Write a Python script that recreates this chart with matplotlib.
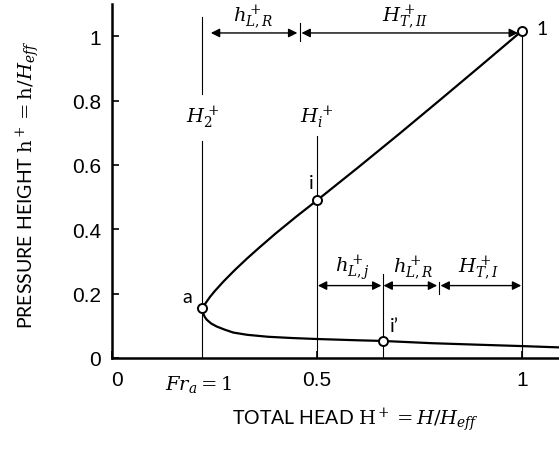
import matplotlib
matplotlib.use("Agg")
import matplotlib.pyplot as plt
import matplotlib.transforms as mtransforms

plt.rcParams["mathtext.fontset"] = "dejavuserif"

# upper branch, from point 1 down to the turning point a
upper_H = [1.0, 0.9, 0.8, 0.7, 0.6, 0.5, 0.45, 0.40, 0.36, 0.33, 0.30, 0.272, 0.25, 0.239, 0.228, 0.22]
upper_h = [1.017, 0.909, 0.802, 0.696, 0.592, 0.49, 0.440, 0.388, 0.344, 0.310, 0.274, 0.238, 0.207, 0.19, 0.17, 0.155]
# lower branch, from a to the right edge
lower_H = [0.22, 0.222, 0.226, 0.231, 0.242, 0.255, 0.275, 0.296, 0.33, 0.38, 0.44, 0.5, 0.6, 0.66, 0.78, 0.9, 1.0, 1.09]
lower_h = [0.155, 0.14, 0.128, 0.119, 0.107, 0.098, 0.088, 0.079, 0.072, 0.066, 0.062, 0.059, 0.055, 0.053, 0.046, 0.041, 0.037, 0.033]

points = {"a": (0.22, 0.155), "i": (0.5, 0.49), "i'": (0.66, 0.053), "1": (1.0, 1.017)}
H_a, H_i, H_j, H_1 = 0.22, 0.5, 0.66, 1.0
H_top_sep, H_bot_sep = 0.458, 0.797

fig = plt.figure(figsize=(5.59, 4.52), dpi=100)
ax = fig.add_axes([112 / 559, 1 - 359 / 452, 447 / 559, 354 / 452])
ax.set_xlim(0, 1.09)
ax.set_ylim(0, 1.10)

ax.spines[["top", "right"]].set_visible(False)
for s in ["left", "bottom"]:
    ax.spines[s].set_linewidth(1.8)

ax.set_xticks([0, 0.5, 1])
ax.set_xticklabels(["0", "0.5", "1"])
ax.set_yticks([0, 0.2, 0.4, 0.6, 0.8, 1])
ax.set_yticklabels(["0", "0.2", "0.4", "0.6", "0.8", "1"])
ax.tick_params(direction="in", length=5, width=1.2, labelsize=15)
ax.tick_params(axis="x", pad=9)
ax.tick_params(axis="y", pad=8)
for lab in ax.get_xticklabels() + ax.get_yticklabels():
    lab.set_fontfamily("Liberation Sans")
# the "0" on the x axis sits a little right of the origin
zero = ax.get_xticklabels()[0]
zero.set_transform(zero.get_transform() + mtransforms.ScaledTranslation(5 / 100, 0, fig.dpi_scale_trans))

thin = dict(color="black", lw=0.8)
# vertical guide lines
ax.plot([H_a, H_a], [0.82, 1.06], **thin)
ax.plot([H_a, H_a], [0, 0.675], **thin)
ax.plot([H_i, H_i], [0, 0.69], **thin)
ax.plot([H_j, H_j], [0, 0.26], **thin)
ax.plot([H_1, H_1], [0, 1.017], **thin)
ax.plot([H_top_sep, H_top_sep], [0.985, 1.04], **thin)
ax.plot([H_bot_sep, H_bot_sep], [0.2, 0.235], **thin)

# curve
ax.plot(upper_H, upper_h, color="black", lw=1.6, zorder=3)
ax.plot(lower_H, lower_h, color="black", lw=1.6, zorder=3)
for name, (x, y) in points.items():
    ax.plot(x, y, "o", ms=6.5, mfc="white", mec="black", mew=1.4, zorder=4)

lab_font = dict(family="Lato", fontsize=14)
ax.text(1.035, 1.025, "1", ha="left", va="center", **lab_font)
ax.text(0.485, 0.545, "i", ha="center", va="center", **lab_font)
ax.text(0.183, 0.19, "a", ha="center", va="center", **lab_font)
ax.text(0.688, 0.10, "i\u2019", ha="center", va="center", **lab_font)

# dimension arrows
arrow = dict(arrowstyle="<|-|>", color="black", lw=1.0, mutation_scale=13, shrinkA=0, shrinkB=0)
def dim(x0, x1, y):
    ax.annotate("", xy=(x1, y), xytext=(x0, y), arrowprops=arrow)

dim(0.241, 0.452, 1.01)
dim(0.462, 0.99, 1.01)
dim(0.502, 0.657, 0.225)
dim(0.662, 0.793, 0.225)
dim(0.801, 0.998, 0.225)

mfs = 14
ax.text(0.345, 1.06, r"$h_{L,R}^+$", ha="center", va="center", fontsize=mfs)
ax.text(0.715, 1.06, r"$H_{T,II}^+$", ha="center", va="center", fontsize=mfs)
ax.text(0.585, 0.28, r"$h_{L,j}^+$", ha="center", va="center", fontsize=mfs)
ax.text(0.735, 0.28, r"$h_{L,R}^+$", ha="center", va="center", fontsize=mfs)
ax.text(0.893, 0.28, r"$H_{T,I}^+$", ha="center", va="center", fontsize=mfs)
ax.text(H_a, 0.75, r"$H_2^+$", ha="center", va="center", fontsize=mfs)
ax.text(H_i, 0.75, r"$H_i^+$", ha="center", va="center", fontsize=mfs)
ax.text(H_a - 0.01, -0.078, r"$Fr_a = 1$", ha="center", va="center", fontsize=mfs, clip_on=False)

fig.text(355 / 559, 1 - 420 / 452, r"TOTAL HEAD $\mathrm{H}^+ = H/H_{eff}$",
         ha="center", va="center", family="Lato", fontsize=14)
fig.text(28 / 559, 1 - 185 / 452, r"PRESSURE HEIGHT $\mathrm{h}^+ = \mathrm{h}/H_{eff}$",
         ha="center", va="center", rotation=90, family="Lato", fontsize=14)

fig.savefig("out.png", dpi=100)
